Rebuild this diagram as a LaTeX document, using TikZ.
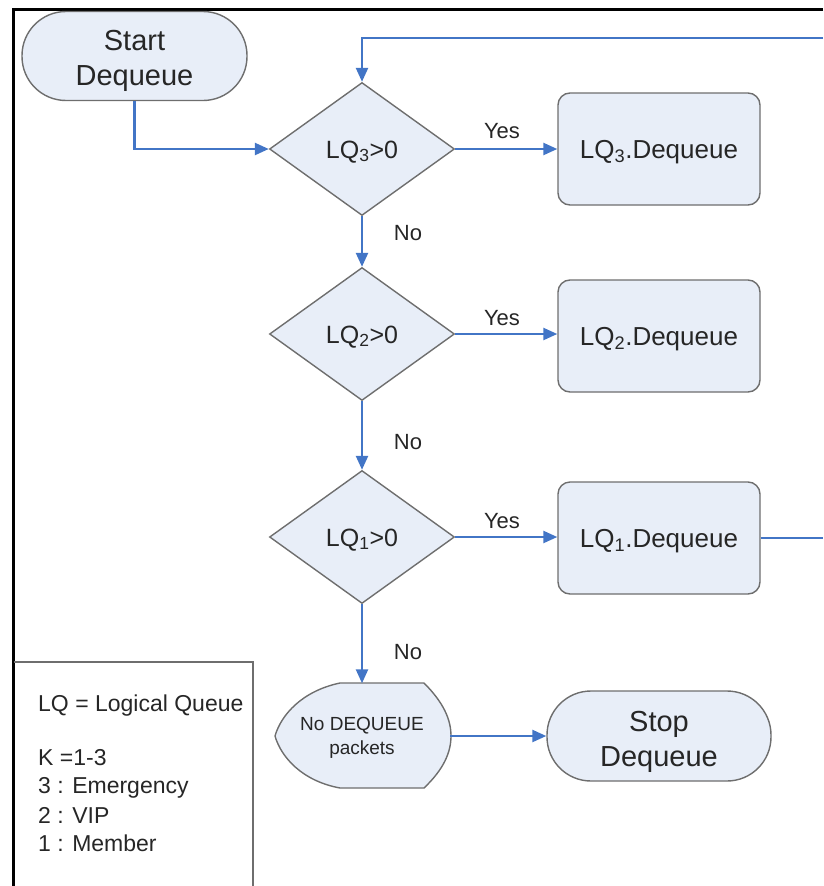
\documentclass[tikz,border=0pt]{standalone}
\usepackage{fontspec}
\setmainfont{Liberation Sans}
\usetikzlibrary{shapes.geometric,arrows.meta}
\definecolor{fillb}{HTML}{E8EEF8}
\definecolor{edgeg}{HTML}{6E6E6E}
\definecolor{flow}{HTML}{4275C6}
\definecolor{txt}{HTML}{262626}
\tikzset{
  every node/.style={text=txt},
  terminal/.style={draw=edgeg, line width=1.4pt, fill=fillb, rectangle, rounded corners=44pt,
    minimum width=225pt, minimum height=89pt},
  termtext/.style={align=center, yshift=-5pt, font=\fontsize{29}{35}\selectfont},
  decision/.style={draw=edgeg, line width=1.4pt, fill=fillb, diamond, inner sep=0pt,
    minimum width=185pt, minimum height=133pt, font=\fontsize{25}{30}\selectfont,
    text height=18pt, text depth=0pt},
  process/.style={draw=edgeg, line width=1.4pt, fill=fillb, rectangle, rounded corners=12pt,
    minimum width=202pt, minimum height=112pt, font=\fontsize{26}{30}\selectfont,
    text height=18.6pt, text depth=0pt},
  flowline/.style={draw=flow, line width=2.4pt},
  flowarrow/.style={flowline, -{Triangle[length=14pt,width=12pt]}},
  lab/.style={font=\fontsize{22}{26}\selectfont},
  legtext/.style={anchor=west, inner sep=0pt, font=\fontsize{23}{27}\selectfont},
}
\begin{document}
\begin{tikzpicture}[x=1pt,y=-1pt]
\useasboundingbox (0,0) rectangle (823,886);
% frame
\draw[black, line width=3pt] (823,9.5) -- (13.5,9.5) -- (13.5,886);
% legend box
\draw[edgeg, line width=1.4pt] (13.5,662) -- (253,662) -- (253,886);
\node[legtext] (lg1) at (38,706) {LQ = Logical Queue};
\node[legtext] (lg2) at (38,758) {K =1-3};
\node[legtext] (lg3) at (38,788) {3 : Emergency};
\node[legtext] (lg4) at (38,815) {2 : VIP};
\node[legtext] (lg5) at (38,843) {1 : Member};

% nodes
\node[terminal, label={[termtext]center:Start\\Dequeue}] (start) at (134.5,56) {};
\node[decision] (d3) at (362,149) {LQ\textsubscript{3}>0};
\node[decision] (d2) at (362,334) {LQ\textsubscript{2}>0};
\node[decision] (d1) at (362,537) {LQ\textsubscript{1}>0};
\node[process] (b3) at (659,149) {LQ\textsubscript{3}.Dequeue};
\node[process] (b2) at (659,336) {LQ\textsubscript{2}.Dequeue};
\node[process] (b1) at (659,538) {LQ\textsubscript{1}.Dequeue};
\node[terminal, minimum width=224pt, minimum height=90pt, label={[termtext, yshift=-1pt]center:Stop\\Dequeue}] (stop) at (659,736) {};
% display-shaped node
\node[minimum width=176pt, minimum height=105pt, inner sep=0pt] (nd) at (362,736) {};
\draw[edgeg, line width=1.4pt, fill=fillb]
  (340,683) -- (424,683)
  .. controls (444,703) and (451,720) .. (451,736)
  .. controls (451,752) and (444,769) .. (424,788)
  -- (340,788)
  .. controls (302,781) and (281,757) .. (275,736)
  .. controls (281,715) and (302,691) .. (340,683) -- cycle;
\node[align=center, font=\fontsize{19}{24}\selectfont, yshift=-2pt] (ndt) at (nd.center) {No DEQUEUE\\packets};

% connectors
\coordinate (topR) at (823,38);
\coordinate (topL) at (362,38);
\coordinate (outR) at (823,538);
\draw[flowarrow] (start.south) |- (d3.west);
\draw[flowarrow] (topR) -- (topL) -- (d3.north);
\draw[flowarrow] (d3.east) -- (b3.west);
\draw[flowarrow] (d2.east) -- (b2.west |- d2.east);
\draw[flowarrow] (d1.east) -- (b1.west |- d1.east);
\draw[flowarrow] (d3.south) -- (d2.north);
\draw[flowarrow] (d2.south) -- (d1.north);
\draw[flowarrow] (d1.south) -- (nd.north);
\draw[flowarrow] (nd.east) -- (stop.west);
\draw[flowline] (b1.east) -- (outR);

% labels
\node[lab] (y3) at (502,131) {Yes};
\node[lab] (y2) at (502,318) {Yes};
\node[lab] (y1) at (502,521) {Yes};
\node[lab] (n3) at (408,233) {No};
\node[lab] (n2) at (408,442) {No};
\node[lab] (n1) at (408,652) {No};
\end{tikzpicture}
\end{document}
